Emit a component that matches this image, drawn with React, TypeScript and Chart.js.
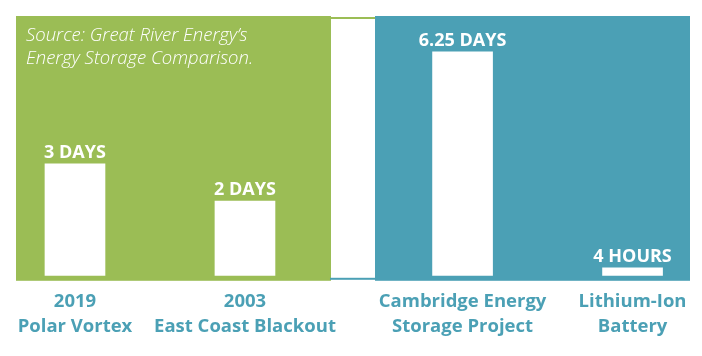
import React, { useEffect, useRef } from "react";
import { Chart, registerables } from "chart.js";

Chart.register(...registerables);

// ---- data ----
const categories: string[][] = [
  ["2019", "Polar Vortex"],
  ["2003", "East Coast Blackout"],
  ["Cambridge Energy", "Storage Project"],
  ["Lithium-Ion", "Battery"],
];
const leftValues = [3, 2]; // days (outage events)
const rightValues = [6.25, 4 / 24]; // days (storage duration)
const valueLabels = ["3 DAYS", "2 DAYS", "6.25 DAYS", "4 HOURS"];
const sourceLines = ["Source: Great River Energy\u2019s", "Energy Storage Comparison."];

// ---- style / layout ----
const GREEN = "#9BBD55";
const TEAL = "#4BA0B5";
const GROUP_GAP = 0.28; // extra space between the two panels, in category units
const positions = categories.map((_, i) => i + (i >= 2 ? GROUP_GAP : 0));

const panelsPlugin = {
  id: "panels",
  beforeDraw(chart: any) {
    const { ctx, chartArea, scales } = chart;
    const x = scales.x;
    const top = chartArea.top;
    const bottom = chartArea.bottom + 5;
    const greenRight = x.getPixelForValue(1.506);
    const tealLeft = x.getPixelForValue(1.765);
    ctx.save();
    ctx.fillStyle = GREEN;
    ctx.fillRect(chartArea.left, top, greenRight - chartArea.left, bottom - top);
    ctx.fillRect(greenRight, top + 1, tealLeft - greenRight, 2);
    ctx.fillStyle = TEAL;
    ctx.fillRect(tealLeft, top, chartArea.right - tealLeft, bottom - top);
    ctx.fillRect(greenRight - 1, bottom - 3, tealLeft - greenRight + 1, 2);
    // source note
    ctx.fillStyle = "#ffffff";
    ctx.font = "italic 300 18.5px 'Open Sans'";
    ctx.textAlign = "left";
    ctx.textBaseline = "alphabetic";
    sourceLines.forEach((line, i) => ctx.fillText(line, chartArea.left + 10, top + 25 + i * 22.5));
    ctx.restore();
  },
};

const labelsPlugin = {
  id: "valueLabels",
  afterDatasetsDraw(chart: any) {
    const { ctx } = chart;
    ctx.save();
    ctx.fillStyle = "#ffffff";
    ctx.font = "bold 18px 'Open Sans'";
    ctx.textAlign = "center";
    ctx.textBaseline = "alphabetic";
    let k = 0;
    chart.data.datasets.forEach((_: any, di: number) => {
      const meta = chart.getDatasetMeta(di);
      meta.data.forEach((bar: any) => {
        ctx.fillText(valueLabels[k], bar.x, bar.y - 6);
        k++;
      });
    });
    ctx.restore();
  },
};

export default function App() {
  const ref = useRef<HTMLCanvasElement>(null);
  useEffect(() => {
    if (!ref.current) return;
    const chart = new Chart(ref.current, {
      type: "bar",
      data: {
        datasets: [
          {
            label: "Outages",
            data: leftValues.map((v, i) => ({ x: positions[i], y: v })),
            yAxisID: "y",
            backgroundColor: "#ffffff",
            borderWidth: 0,
            barThickness: 60,
          },
          {
            label: "Storage",
            data: rightValues.map((v, i) => ({ x: positions[i + 2], y: v })),
            yAxisID: "y2",
            backgroundColor: "#ffffff",
            borderWidth: 0,
            barThickness: 60,
            minBarLength: 8,
          },
        ],
      },
      options: {
        responsive: false,
        animation: false,
        devicePixelRatio: 1,
        grouped: false,
        layout: { padding: { left: 16, right: 12, top: 16, bottom: 3 } },
        plugins: { legend: { display: false }, tooltip: { enabled: false } },
        scales: {
          x: {
            type: "linear",
            min: -0.347,
            max: 3.618,
            offset: false,
            grid: { display: false, drawTicks: false },
            border: { display: false },
            afterBuildTicks: (scale: any) => {
              scale.ticks = positions.map((v) => ({ value: v }));
            },
            ticks: {
              autoSkip: false,
              maxRotation: 0,
              padding: 14,
              color: TEAL,
              font: { family: "'Open Sans'", size: 18.5, weight: "bold", lineHeight: 1.33 },
              callback: (_v: any, i: number) => categories[i],
            },
          },
          y: { display: false, min: 0, max: 6.96 },
          y2: { display: false, min: 0, max: 7.25 },
        },
      } as any,
      plugins: [panelsPlugin, labelsPlugin],
    });
    return () => chart.destroy();
  }, []);
  return (
    <canvas
      ref={ref}
      width={702}
      height={356}
      style={{ position: "absolute", left: 0, top: 0, width: 702, height: 356 }}
    />
  );
}
